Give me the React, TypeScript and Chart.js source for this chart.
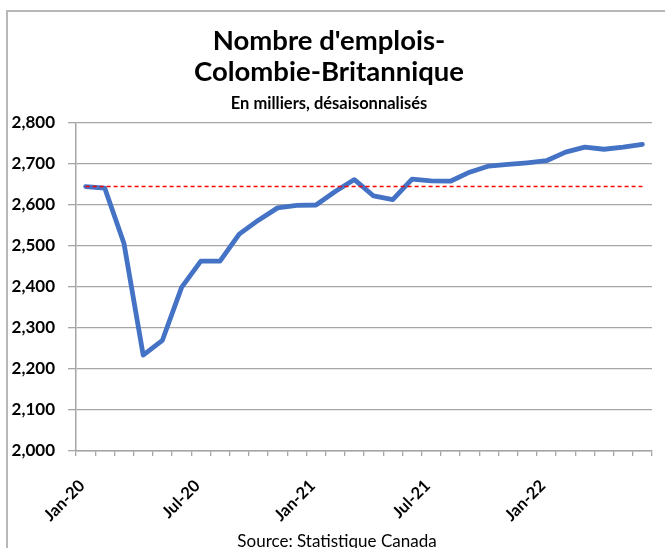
import React, { useEffect, useRef } from 'react';
import { Chart, registerables } from 'chart.js';

Chart.register(...registerables);

// ---- Data ----
const months = [
  'Jan-20', 'Feb-20', 'Mar-20', 'Apr-20', 'May-20', 'Jun-20',
  'Jul-20', 'Aug-20', 'Sep-20', 'Oct-20', 'Nov-20', 'Dec-20',
  'Jan-21', 'Feb-21', 'Mar-21', 'Apr-21', 'May-21', 'Jun-21',
  'Jul-21', 'Aug-21', 'Sep-21', 'Oct-21', 'Nov-21', 'Dec-21',
  'Jan-22', 'Feb-22', 'Mar-22', 'Apr-22', 'May-22', 'Jun-22',
];
const employment = [
  2645, 2641, 2506, 2234, 2270, 2399,
  2463, 2463, 2529, 2563, 2593, 2599,
  2600, 2633, 2662, 2622, 2613, 2663,
  2659, 2658, 2680, 2695, 2699, 2703,
  2708, 2729, 2741, 2736, 2741, 2748,
];
const referenceLevel = 2645;
const yMin = 2000;
const yMax = 2800;
const yStep = 100;
const titleLines = ["Nombre d'emplois-", 'Colombie-Britannique'];
const subtitleText = 'En milliers, désaisonnalisés';
const sourceText = 'Source: Statistique Canada';

const FONT = 'Lato, "Liberation Sans", Arial, sans-serif';
const GRID = '#a6a6a6';

export default function App() {
  const canvasRef = useRef<HTMLCanvasElement | null>(null);

  useEffect(() => {
    const canvas = canvasRef.current;
    if (!canvas) return;
    const chart = new Chart(canvas, {
      type: 'line',
      data: {
        datasets: [
          {
            label: 'Niveau de janvier 2020',
            data: months.map((_, i) => ({ x: i + 0.5, y: referenceLevel })),
            borderColor: '#ff0000',
            borderWidth: 1.4,
            borderDash: [4, 3],
            pointRadius: 0,
            fill: false,
            order: 0,
          },
          {
            label: "Nombre d'emplois",
            data: employment.map((v, i) => ({ x: i + 0.5, y: v })),
            borderColor: '#4472c4',
            borderWidth: 4.8,
            borderJoinStyle: 'round',
            borderCapStyle: 'round',
            pointRadius: 0,
            tension: 0,
            fill: false,
            order: 1,
          },
        ],
      },
      options: {
        animation: false,
        responsive: false,
        devicePixelRatio: 1,
        layout: { padding: { left: 6, right: 13, top: 0, bottom: 0 } },
        plugins: {
          legend: { display: false },
          tooltip: { enabled: false },
          title: {
            display: true,
            text: titleLines,
            color: '#000',
            font: { family: FONT, size: 27.5, weight: 'bold', lineHeight: 31 / 27.5 },
            padding: { top: 26, bottom: 0 },
          },
          subtitle: {
            display: true,
            text: subtitleText,
            color: '#000',
            font: { family: FONT, size: 16.5, weight: 'bold', lineHeight: 18 / 16.5 },
            padding: { top: 7, bottom: 10 },
          },
        },
        scales: {
          x: {
            type: 'linear',
            min: 0,
            max: months.length,
            afterBuildTicks: (scale: any) => {
              scale.ticks = Array.from({ length: months.length + 1 }, (_, i) => ({ value: i }));
            },
            afterFit: (scale: any) => {
              scale.height = 97;
              scale.paddingLeft = 0;
              scale.paddingRight = 0;
            },
            grid: {
              display: true,
              drawOnChartArea: false,
              drawTicks: true,
              tickLength: 5,
              color: GRID,
              lineWidth: 1.3,
            },
            border: { display: true, color: GRID, width: 1.5 },
            ticks: {
              autoSkip: false,
              maxRotation: 45,
              minRotation: 45,
              padding: 20,
              labelOffset: 6,
              color: '#000',
              font: { family: FONT, size: 16.5, weight: 'bold' },
              callback: (value: any) => {
                const i = Number(value);
                return i % 6 === 0 && months[i] ? months[i] : '';
              },
            },
          },
          y: {
            min: yMin,
            max: yMax,
            afterFit: (scale: any) => {
              scale.width = 70;
            },
            grid: {
              color: GRID,
              lineWidth: 1.3,
              tickLength: 8,
              drawTicks: true,
            },
            border: { display: true, color: GRID, width: 1.5 },
            ticks: {
              stepSize: yStep,
              padding: 13,
              color: '#000',
              font: { family: FONT, size: 17, weight: 'bold' },
              callback: (value: any) => Number(value).toLocaleString('en-US'),
            },
          },
        },
      },
    });
    return () => chart.destroy();
  }, []);

  return (
    <div
      style={{
        position: 'fixed',
        left: 0,
        top: 0,
        width: 665,
        height: 548,
        overflow: 'hidden',
        background: '#fff',
      }}
    >
      <div
        style={{
          position: 'absolute',
          left: 6,
          top: 10,
          width: 800,
          height: 800,
          border: '2px solid #b8b8b8',
          boxSizing: 'border-box',
        }}
      />
      <canvas
        ref={canvasRef}
        width={665}
        height={548}
        style={{ position: 'absolute', left: 0, top: 0, width: 665, height: 548 }}
      />
      <div
        style={{
          position: 'absolute',
          left: 0,
          width: 674,
          top: 531,
          textAlign: 'center',
          fontFamily: FONT,
          fontSize: 17,
          lineHeight: '20px',
          color: '#000',
          whiteSpace: 'nowrap',
        }}
      >
        {sourceText}
      </div>
    </div>
  );
}
